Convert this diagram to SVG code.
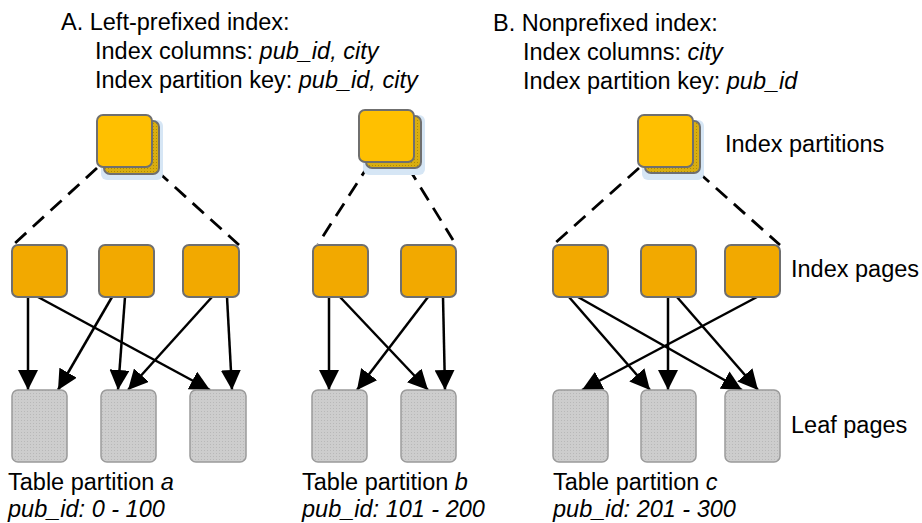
<svg xmlns="http://www.w3.org/2000/svg" width="922" height="523" viewBox="0 0 922 523">
<defs>
<style>
text{font-family:"Liberation Sans",Arial,sans-serif;font-size:23.5px;fill:#000}
.it{font-style:italic}
.front{fill:#FFC000;stroke:#6f6f6f;stroke-width:2}
.back{fill:url(#dotY);stroke:#6f6f6f;stroke-width:2}
.glow{fill:#d6e6f5}
.page{fill:#F2A900;stroke:#6f6f6f;stroke-width:2}
.leaf{fill:url(#dotG);stroke:#9a9a9a;stroke-width:1.5}
.dash{stroke:#000;stroke-width:2.8;fill:none;stroke-dasharray:15 9}
.arr{stroke:#000;stroke-width:2.5;fill:none;marker-end:url(#ah)}
</style>
<pattern id="dotG" width="3" height="3" patternUnits="userSpaceOnUse">
<rect width="3" height="3" fill="#cdcdcd"/>
<rect width="1" height="1" fill="#b8b8b8"/>
</pattern>
<pattern id="dotY" width="3" height="3" patternUnits="userSpaceOnUse">
<rect width="3" height="3" fill="#D9AE10"/>
<rect width="1" height="1" fill="#b08a00"/>
</pattern>
<marker id="ah" markerUnits="userSpaceOnUse" markerWidth="22" markerHeight="20" refX="20" refY="10" orient="auto">
<path d="M0,0 L20,10 L0,20 Z" fill="#000"/>
</marker>
</defs>

<g id="titles">
<text x="61" y="30">A. Left-prefixed index:</text>
<text x="95" y="59">Index columns: <tspan class="it">pub_id, city</tspan></text>
<text x="95" y="88">Index partition key: <tspan class="it">pub_id, city</tspan></text>
<text x="493" y="31">B. Nonprefixed index:</text>
<text x="523" y="60">Index columns: <tspan class="it">city</tspan></text>
<text x="523" y="89">Index partition key: <tspan class="it">pub_id</tspan></text>
</g>

<g id="level-labels">
<text x="725" y="152">Index partitions</text>
<text x="791" y="277">Index pages</text>
<text x="791" y="433">Leaf pages</text>
</g>

<g id="connectors">
<line class="dash" x1="97" y1="168" x2="13" y2="245"/>
<line class="dash" x1="157" y1="171" x2="239" y2="245"/>
<line class="dash" x1="370" y1="163" x2="318" y2="244"/>
<line class="dash" x1="408" y1="167" x2="453" y2="240"/>
<line class="dash" x1="639" y1="168" x2="553" y2="245"/>
<line class="dash" x1="698" y1="172" x2="780" y2="245"/>
<line class="arr" x1="28" y1="297" x2="28" y2="390"/>
<line class="arr" x1="38" y1="297" x2="210" y2="390"/>
<line class="arr" x1="112" y1="297" x2="58" y2="390"/>
<line class="arr" x1="125" y1="297" x2="118" y2="390"/>
<line class="arr" x1="212" y1="297" x2="128" y2="390"/>
<line class="arr" x1="227" y1="297" x2="232" y2="390"/>
<line class="arr" x1="329" y1="297" x2="329" y2="390"/>
<line class="arr" x1="340" y1="297" x2="428" y2="390"/>
<line class="arr" x1="428" y1="297" x2="357" y2="390"/>
<line class="arr" x1="443" y1="297" x2="445" y2="390"/>
<line class="arr" x1="569" y1="297" x2="650" y2="390"/>
<line class="arr" x1="578" y1="297" x2="742" y2="390"/>
<line class="arr" x1="668" y1="297" x2="668" y2="390"/>
<line class="arr" x1="677" y1="297" x2="758" y2="390"/>
<line class="arr" x1="757" y1="297" x2="582" y2="390"/>
</g>

<g id="partition-a">
<rect class="glow" x="101" y="120" width="62" height="60" rx="6"/>
<rect class="back" x="104" y="121" width="55" height="53" rx="6"/>
<rect class="front" x="97" y="115" width="55" height="52" rx="6"/>
</g>
<g id="partition-b">
<rect class="glow" x="363" y="115" width="62" height="60" rx="6"/>
<rect class="back" x="366" y="116" width="55" height="52" rx="6"/>
<rect class="front" x="359" y="110" width="55" height="52" rx="6"/>
</g>
<g id="partition-c">
<rect class="glow" x="642" y="120" width="62" height="60" rx="6"/>
<rect class="back" x="645" y="121" width="55" height="52" rx="6"/>
<rect class="front" x="638" y="115" width="55" height="52" rx="6"/>
</g>

<g id="pages-a">
<rect class="page" x="12" y="245" width="55" height="52" rx="6"/>
<rect class="page" x="99" y="245" width="55" height="52" rx="6"/>
<rect class="page" x="183" y="245" width="56" height="52" rx="6"/>
</g>
<g id="pages-b">
<rect class="page" x="313" y="245" width="55" height="52" rx="6"/>
<rect class="page" x="401" y="245" width="55" height="52" rx="6"/>
</g>
<g id="pages-c">
<rect class="page" x="553" y="245" width="55" height="52" rx="6"/>
<rect class="page" x="641" y="245" width="55" height="52" rx="6"/>
<rect class="page" x="725" y="245" width="55" height="52" rx="6"/>
</g>

<g id="leaves-a">
<rect class="leaf" x="12" y="390" width="55" height="72" rx="6"/>
<rect class="leaf" x="101" y="390" width="55" height="72" rx="6"/>
<rect class="leaf" x="190" y="390" width="56" height="72" rx="6"/>
</g>
<g id="leaves-b">
<rect class="leaf" x="312" y="390" width="55" height="72" rx="6"/>
<rect class="leaf" x="401" y="390" width="55" height="72" rx="6"/>
</g>
<g id="leaves-c">
<rect class="leaf" x="553" y="390" width="55" height="72" rx="6"/>
<rect class="leaf" x="641" y="390" width="55" height="72" rx="6"/>
<rect class="leaf" x="725" y="390" width="55" height="72" rx="6"/>
</g>

<g id="table-labels">
<text x="8" y="490">Table partition <tspan class="it">a</tspan></text>
<text x="8" y="517" class="it">pub_id: 0 - 100</text>
<text x="302" y="490">Table partition <tspan class="it">b</tspan></text>
<text x="302" y="517" class="it">pub_id: 101 - 200</text>
<text x="553" y="490">Table partition <tspan class="it">c</tspan></text>
<text x="553" y="517" class="it">pub_id: 201 - 300</text>
</g>
</svg>
